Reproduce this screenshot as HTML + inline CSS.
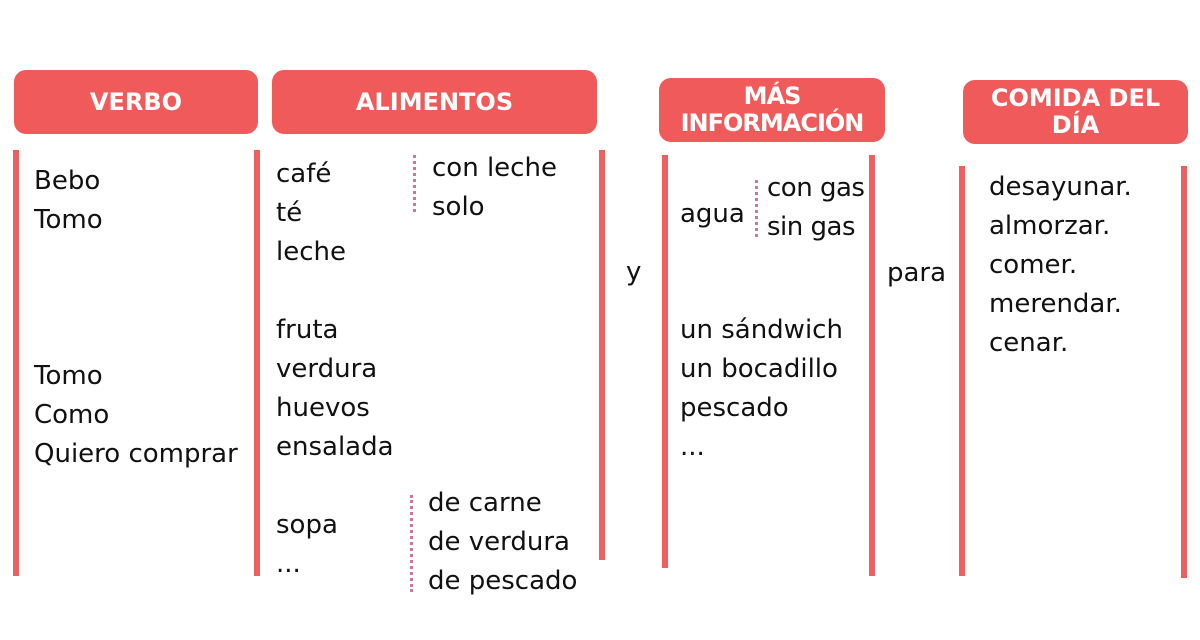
<!DOCTYPE html>
<html><head><meta charset="utf-8"><style>
body{margin:0;width:1200px;height:640px;background:#fff;position:relative;overflow:hidden;font-family:"DejaVu Sans","Liberation Sans",sans-serif;}
.h{position:absolute;background:#f05a5a;border-radius:12px;color:#fff;font-weight:bold;font-family:"DejaVu Sans",sans-serif;font-size:24px;display:flex;align-items:center;justify-content:center;text-align:center;line-height:27px;}
.b{position:absolute;width:6px;background:#ef5f5f;}
.t{position:absolute;font-size:26px;line-height:39px;color:#111;white-space:nowrap;}
.d{position:absolute;width:0;border-left:3px dotted #c8789a;}
</style></head><body>
<div class="h" style="left:14px;top:70px;width:244px;height:64px">VERBO</div>
<div class="h" style="left:272px;top:70px;width:325px;height:64px">ALIMENTOS</div>
<div class="h" style="left:659px;top:78px;width:226px;height:64px;letter-spacing:-1px">MÁS<br>INFORMACIÓN</div>
<div class="h" style="left:963px;top:80px;width:225px;height:64px">COMIDA DEL<br>DÍA</div>

<div class="b" style="left:13px;top:150px;height:426px"></div>
<div class="b" style="left:254px;top:150px;height:426px"></div>
<div class="b" style="left:599px;top:150px;height:410px"></div>
<div class="b" style="left:662px;top:155px;height:413px"></div>
<div class="b" style="left:869px;top:155px;height:421px"></div>
<div class="b" style="left:959px;top:166px;height:410px"></div>
<div class="b" style="left:1181px;top:166px;height:412px"></div>

<div class="d" style="left:413px;top:155px;height:57px"></div>
<div class="d" style="left:755px;top:180px;height:57px"></div>
<div class="d" style="left:410px;top:495px;height:97px"></div>

<div class="t" style="left:34px;top:162px">Bebo<br>Tomo</div>
<div class="t" style="left:34px;top:357px">Tomo<br>Como<br>Quiero comprar</div>

<div class="t" style="left:276px;top:155px">café<br>té<br>leche</div>
<div class="t" style="left:432px;top:149px">con leche<br>solo</div>
<div class="t" style="left:276px;top:311px">fruta<br>verdura<br>huevos<br>ensalada</div>
<div class="t" style="left:276px;top:506px">sopa<br>...</div>
<div class="t" style="left:428px;top:484px">de carne<br>de verdura<br>de pescado</div>

<div class="t" style="left:626px;top:253px">y</div>
<div class="t" style="left:680px;top:195px">agua</div>
<div class="t" style="left:767px;top:169px;letter-spacing:-0.5px">con gas<br>sin gas</div>
<div class="t" style="left:680px;top:311px">un sándwich<br>un bocadillo<br>pescado<br>...</div>

<div class="t" style="left:887px;top:254px">para</div>
<div class="t" style="left:989px;top:168px">desayunar.<br>almorzar.<br>comer.<br>merendar.<br>cenar.</div>
</body></html>
